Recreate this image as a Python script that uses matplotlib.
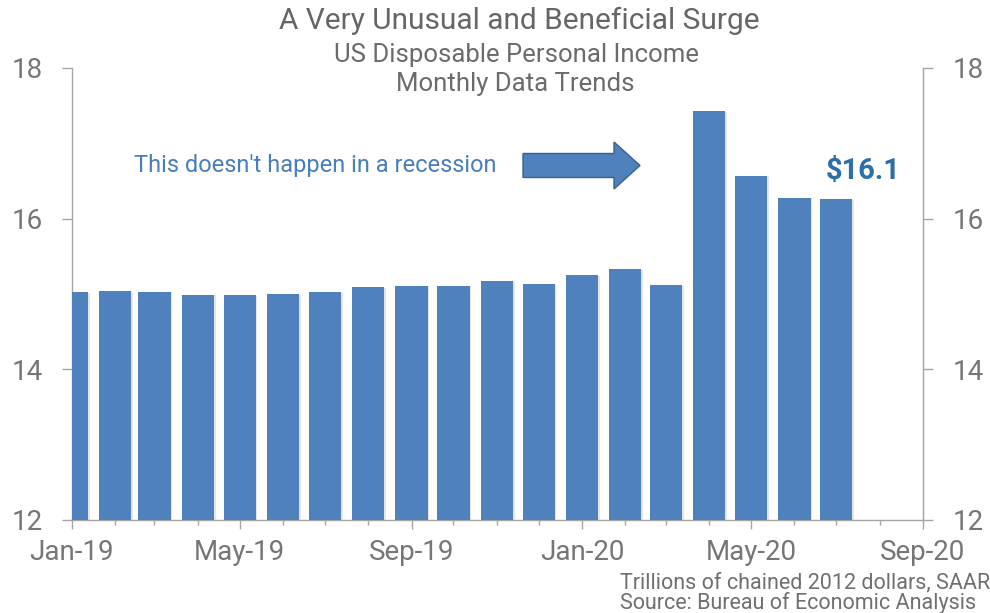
import datetime as dt

import matplotlib
matplotlib.use("Agg")
import matplotlib.pyplot as plt
import matplotlib.dates as mdates
import matplotlib.patheffects as pe
from matplotlib.transforms import Affine2D
from matplotlib.patches import FancyArrow

plt.rcParams['font.family'] = ['Roboto', 'DejaVu Sans']

# monthly real disposable personal income, trillions of chained 2012 dollars
months = [dt.datetime(2019, m, 1) for m in range(1, 13)] + \
         [dt.datetime(2020, m, 1) for m in range(1, 8)]
income = [15.02, 15.04, 15.03, 14.99, 14.985, 15.00, 15.02, 15.09, 15.11,
          15.11, 15.17, 15.13, 15.25, 15.33, 15.12, 17.43, 16.57, 16.28, 16.26]
y_ticks = [12, 14, 16, 18]

BAR = '#4F81BD'
GRAY_TXT = '#767676'
SPINE = '#A6A6A6'
PX = 72 / 100  # points per pixel at dpi 100

W, H = 990, 613
fig = plt.figure(figsize=(W / 100, H / 100), dpi=100)
ax = fig.add_axes([72 / W, 1 - 520 / H, (923 - 72) / W, (520 - 68) / H])

bars = ax.bar(months, [v - 12 for v in income], bottom=12, width=23,
              color=BAR, zorder=3)
for b in bars:
    b.set_path_effects([pe.SimplePatchShadow(offset=(1.2, -0.5), shadow_rgbFace='#8a8a8a', alpha=0.22),
                        pe.Normal()])

ax.set_xlim(dt.datetime(2019, 1, 1), dt.datetime(2020, 9, 1))
ax.set_ylim(12, 18)
ax.set_yticks(y_ticks)

ax.xaxis.set_major_locator(mdates.MonthLocator(bymonth=[1, 5, 9]))
ax.xaxis.set_major_formatter(mdates.DateFormatter('%b-%y'))
ax.xaxis.set_minor_locator(mdates.MonthLocator())

ax.spines['top'].set_visible(False)
for s in ['left', 'bottom', 'right']:
    ax.spines[s].set_color(SPINE)
    ax.spines[s].set_linewidth(1)

ax.tick_params(axis='x', which='major', direction='out', length=9 * PX, width=1,
               color=SPINE, labelsize=20, labelcolor=GRAY_TXT, pad=7)
ax.tick_params(axis='x', which='minor', direction='out', length=5 * PX, width=1, color=SPINE)
ax.tick_params(axis='y', direction='out', length=10 * PX, width=1, color=SPINE,
               labelsize=20, labelcolor=GRAY_TXT, pad=19 * PX)

ax2 = ax.twinx()
ax2.set_ylim(ax.get_ylim())
ax2.set_yticks(y_ticks)
for s in ['top', 'left', 'bottom']:
    ax2.spines[s].set_visible(False)
ax2.spines['right'].set_color(SPINE)
ax2.tick_params(axis='y', direction='out', length=10 * PX, width=1, color=SPINE,
                labelsize=20, labelcolor=GRAY_TXT, pad=20 * PX)

# pixel coords (top-left origin) -> figure
px = Affine2D().scale(1 / W, -1 / H).translate(0, 1) + fig.transFigure

fig.text(519 / W, 1 - 21 / H, 'A Very Unusual and Beneficial Surge', ha='center', va='center',
         fontsize=21.5, color='#666666')
fig.text(516 / W, 1 - 55 / H, 'US Disposable Personal Income', ha='center', va='center',
         fontsize=18.5, color='#6b6b6b')
fig.text(515 / W, 1 - 84 / H, 'Monthly Data Trends', ha='center', va='center',
         fontsize=18.5, color='#6b6b6b')

fig.text(134 / W, 1 - 165 / H, "This doesn't happen in a recession", ha='left', va='center',
         fontsize=17, color='#4A7EBB')
fig.patches.append(FancyArrow(523, 165.5, 117, 0, width=24, head_width=47, head_length=26,
                              length_includes_head=True, transform=px,
                              facecolor=BAR, edgecolor='#3B5F8F', linewidth=1))

fig.text(863 / W, 1 - 171 / H, '$16.1', ha='center', va='center', fontsize=21,
         fontweight='bold', color='#2E6FA7')

fig.text(620 / W, 1 - 583 / H, 'Trillions of chained 2012 dollars, SAAR', ha='left', va='center',
         fontsize=15.5, color='#707070')
fig.text(620 / W, 1 - 603 / H, 'Source: Bureau of Economic Analysis', ha='left', va='center',
         fontsize=15.5, color='#707070')

fig.savefig('out.png', dpi=100)
